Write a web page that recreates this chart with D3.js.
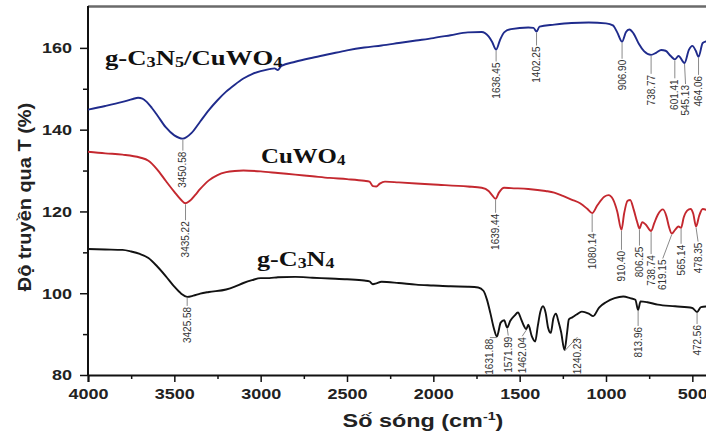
<!DOCTYPE html>
<html>
<head>
<meta charset="utf-8">
<script src="https://cdn.jsdelivr.net/npm/d3@7"></script>
<style>
  html, body { margin: 0; padding: 0; background: #fff; }
  svg { display: block; }
  .peak { font-family: "Liberation Sans", Arial, sans-serif; font-size: 10px; fill: #333; }
  .tick text { font-family: "Liberation Sans", Arial, sans-serif; font-weight: bold; font-size: 15px; fill: #222; }
</style>
</head>
<body>
<svg id="chart" width="706" height="435"></svg>
<script>

// g-C3N5/CuWO4 spectrum [wavenumber, T%]
const compositeSeries = [
  [4000,144.9],[3900,145.8],[3800,146.8],[3740,147.5],[3710,147.8],[3685,147.6],[3660,146.8],
  [3630,145.3],[3600,143.6],[3550,140.6],[3500,138.6],[3450.58,137.8],[3400,139.2],[3350,142],
  [3300,144.8],[3250,147.2],[3200,149.3],[3150,151],[3100,152.5],[3050,153.6],[3000,154.3],
  [2950,154.8],[2920,155.0],[2900,154.6],[2880,155.6],[2800,156.6],[2700,157.6],[2600,158.5],
  [2500,159.4],[2400,160.1],[2300,160.6],[2200,161.2],[2100,161.8],[2000,162.4],[1900,163.1],
  [1800,163.8],[1720,163.9],[1680,162.8],[1660,161.5],[1636.45,159.6],[1615,161.8],[1590,163.8],
  [1550,164.6],[1450,165.0],[1420,164.9],[1402.25,164.0],[1385,165.2],[1300,165.7],[1200,166.1],
  [1100,166.2],[1000,166.0],[960,165.5],[935,163.8],[906.90,161.5],[885,163.8],[865,164.5],
  [840,163.5],[810,161],[780,159.2],[738.77,158.3],[710,158.8],[680,159.5],[655,159.3],
  [625,158.0],[601.41,157.2],[580,158.0],[545.13,156.3],[520,159.5],[500,160.5],[480,159.3],
  [464.06,157.8],[440,161.2],[420,161.6],[400,161.8]
];

// CuWO4 spectrum
const tungstateSeries = [
  [4000,134.6],[3900,134.2],[3800,133.9],[3700,133.2],[3650,132.4],[3600,130.3],[3550,127.5],
  [3500,124.8],[3460,122.8],[3435.22,122.0],[3410,122.6],[3380,124],[3350,125.5],[3300,127.6],
  [3250,128.9],[3200,129.6],[3150,129.9],[3100,130],[3000,129.8],[2900,129.4],[2800,129],
  [2700,128.6],[2600,128.2],[2500,127.9],[2400,127.5],[2370,127.3],[2350,126.2],[2330,126.1],
  [2310,126.8],[2280,127.3],[2200,127.1],[2000,126.6],[1800,126.1],[1720,125.8],[1680,125.0],
  [1660,124.0],[1639.44,123.1],[1620,124.6],[1590,125.8],[1550,125.7],[1450,125.5],[1350,125.0],
  [1300,124.6],[1250,123.8],[1200,122.9],[1150,122.0],[1110,120.7],[1080.14,119.6],[1050,121.5],
  [1010,123.6],[985,124.0],[960,123],[935,120],[910.40,115.5],[895,119.5],[875,122.6],[860,122.8],
  [840,120.5],[820,117.5],[806.25,115.8],[790,117.4],[770,116.8],[738.74,115.2],[720,117.2],
  [700,119.2],[670,120.5],[650,118.8],[635,116.2],[619.15,114.6],[600,115.5],[580,116.3],
  [565.14,116.0],[550,118.5],[530,120.2],[510,120.6],[495,119.5],[478.35,116.3],[460,119],
  [440,120.6],[420,120.4],[400,119.8]
];

// g-C3N4 spectrum
const nitrideSeries = [
  [4000,110.8],[3900,110.7],[3800,110.6],[3750,110.2],[3700,109.6],[3650,108.6],[3600,106.6],
  [3550,104.2],[3500,101.6],[3460,99.9],[3425.58,99.1],[3390,99.4],[3350,99.9],[3300,100.3],
  [3200,100.9],[3150,101.6],[3100,102.5],[3050,103.2],[3000,103.7],[2950,103.7],[2900,103.9],
  [2800,104.0],[2700,103.8],[2600,103.6],[2500,103.4],[2400,103.1],[2370,102.9],[2350,102.2],
  [2330,102.4],[2300,102.8],[2200,102.5],[2100,102.1],[2000,101.9],[1900,101.7],[1800,101.6],
  [1740,101.4],[1710,100.6],[1690,98.5],[1670,95.2],[1650,91.5],[1631.88,89.4],[1610,92.8],
  [1590,93.4],[1571.99,91.6],[1555,93.2],[1530,94.5],[1510,95.3],[1490,93.5],[1475,92.0],
  [1462.04,91.2],[1450,92.3],[1430,89.5],[1410,88.2],[1395,92.0],[1380,95.5],[1365,96.8],
  [1350,95.3],[1335,91.5],[1320,90.3],[1305,93.8],[1290,95.0],[1275,93.0],[1260,90.5],
  [1240.23,86.1],[1225,90.5],[1215,93.6],[1195,94.1],[1170,94.8],[1140,95.5],[1100,95.0],
  [1074,94.4],[1040,96.5],[1000,97.8],[950,98.8],[900,99.2],[860,98.8],[830,98.4],[813.96,95.9],
  [800,98.0],[760,97.8],[700,97.2],[600,96.8],[500,96.4],[472.56,95.4],[450,96.6],[400,96.8]
];

// marked peaks
const compositePeaks = [3450.58, 1636.45, 1402.25, 906.90, 738.77, 601.41, 545.13, 464.06];
const tungstatePeaks = [3435.22, 1639.44, 1080.14, 910.40, 806.25, 738.74, 619.15, 565.14, 478.35];
const nitridePeaks   = [3425.58, 1631.88, 1571.99, 1462.04, 1240.23, 813.96, 472.56];

// axis ticks
const xMajor = [4000, 3500, 3000, 2500, 2000, 1500, 1000, 500];
const xMinor = [3750, 3250, 2750, 2250, 1750, 1250, 750];
const yMajor = [80, 100, 120, 140, 160];
const yMinor = [90, 110, 130, 150];

// label layout (gap under the curve, sideways shift)
const compositeLeads  = [13, 13, 15, 18, 20, 20, 22, 19];
const compositeShifts = [0, 0, 0, 0, 0, 0, 1, 0];
const tungstateLeads  = [18, 15, 20, 21, 18, 24, 26, 17, 16];
const tungstateShifts = [0, 0, 0, 0, 0, 0, -9, 0, 2];
const nitrideLeads    = [10, 2, 9, 8, -12, 17, 13];
const nitrideShifts   = [0, -7, 1, -4, 13, 0, 0];

const svg = d3.select("#chart");
const plotLeft = 88, plotTop = 7, plotBottom = 375, plotRight = 706;

const x = d3.scaleLinear().domain([4000, 400]).range([plotLeft, 709.6]);
const y = d3.scaleLinear().domain([80, 170]).range([plotBottom, plotTop]);

svg.append("clipPath").attr("id", "plotClip")
  .append("rect").attr("x", plotLeft).attr("y", 0)
  .attr("width", plotRight - plotLeft).attr("height", plotBottom);

//Top frame line
svg.append("line")
  .attr("x1", plotLeft).attr("x2", plotRight).attr("y1", 6.5).attr("y2", 6.5)
  .attr("stroke", "#6a6a6a").attr("stroke-width", 2.5);

//Axes: minor ticks first, then major with labels
svg.append("g")
  .attr("transform", `translate(0,${plotBottom})`)
  .call(d3.axisBottom(x).tickValues(xMinor).tickSize(4).tickFormat(""))
  .call(g => g.select(".domain").remove())
  .call(g => g.selectAll("line").attr("stroke", "#111").attr("stroke-width", 1.5));

const xAxis = svg.append("g")
  .attr("transform", `translate(0,${plotBottom})`)
  .call(d3.axisBottom(x).tickValues(xMajor).tickSize(7).tickPadding(6).tickFormat(d3.format("d")));
xAxis.select(".domain").attr("stroke", "#111").attr("stroke-width", 2);
xAxis.selectAll("line").attr("stroke", "#111").attr("stroke-width", 1.5);
xAxis.selectAll("text").attr("transform", "scale(1.2,1)");

svg.append("g")
  .attr("transform", `translate(${plotLeft},0)`)
  .call(d3.axisLeft(y).tickValues(yMinor).tickSize(5).tickFormat(""))
  .call(g => g.select(".domain").remove())
  .call(g => g.selectAll("line").attr("stroke", "#111").attr("stroke-width", 1.5));

const yAxis = svg.append("g")
  .attr("transform", `translate(${plotLeft},0)`)
  .call(d3.axisLeft(y).tickValues(yMajor).tickSize(8).tickFormat(d3.format("d")));
yAxis.select(".domain").attr("stroke", "#111").attr("stroke-width", 2)
  .attr("d", `M0,${plotTop - 1}V${plotBottom}`);
yAxis.selectAll("line").attr("stroke", "#111").attr("stroke-width", 1.5);
yAxis.selectAll("text").attr("x", 0).attr("transform", "translate(-16,0) scale(1.2,1)");

//Axis titles
const xTitle = svg.append("text")
  .attr("text-anchor", "middle")
  .attr("transform", "translate(423,427) scale(1.3,1)")
  .style("font-family", "'Liberation Sans', Arial, sans-serif")
  .style("font-weight", "bold").style("font-size", "18px").attr("fill", "#222");
xTitle.append("tspan").text("Số sóng (cm");
xTitle.append("tspan").attr("dy", -7).style("font-size", "11px").text("-1");
xTitle.append("tspan").attr("dy", 7).text(")");

svg.append("text")
  .attr("text-anchor", "middle")
  .attr("transform", "translate(31,197) rotate(-90) scale(1.05,1)")
  .style("font-family", "'Liberation Sans', Arial, sans-serif")
  .style("font-weight", "bold")
  .style("font-size", "19px").attr("fill", "#222")
  .text("Độ truyền qua T (%)");

//Spectra
const line = d3.line()
  .x(d => x(d[0]))
  .y(d => y(d[1]))
  .curve(d3.curveMonotoneX);

const spectra = [
  { data: compositeSeries, color: "#1f2b8c" },
  { data: tungstateSeries, color: "#c4282f" },
  { data: nitrideSeries,   color: "#121212" }
];

svg.append("g").attr("clip-path", "url(#plotClip)")
  .selectAll("path")
  .data(spectra)
  .join("path")
    .attr("d", d => line(d.data))
    .attr("fill", "none")
    .attr("stroke", d => d.color)
    .attr("stroke-width", 1.9)
    .attr("stroke-linejoin", "round");

//Peak labels with leader lines
const drawPeaks = (peaks, series, leads, shifts) => {
  const g = svg.append("g");
  peaks.forEach((p, i) => {
    const pt = d3.least(series, d => Math.abs(d[0] - p));
    const cx = x(pt[0]), cy = y(pt[1]);
    const lx = cx + shifts[i], ty = cy + leads[i];
    g.append("line")
      .attr("x1", cx).attr("y1", cy + 1)
      .attr("x2", lx).attr("y2", ty - 1)
      .attr("stroke", "#8a8a8a").attr("stroke-width", 1);
    g.append("text")
      .attr("class", "peak")
      .attr("text-anchor", "end")
      .attr("dy", "0.35em")
      .attr("transform", `translate(${lx},${ty}) rotate(-90)`)
      .text(p.toFixed(2));
  });
};

drawPeaks(compositePeaks, compositeSeries, compositeLeads, compositeShifts);
drawPeaks(tungstatePeaks, tungstateSeries, tungstateLeads, tungstateShifts);
drawPeaks(nitridePeaks, nitrideSeries, nitrideLeads, nitrideShifts);

//Sample names, serif with small subscripts
const sampleNames = [
  { parts: [["g-C", 0], ["3", 1], ["N", 0], ["5", 1], ["/CuWO", 0], ["4", 1]], x: 105, y: 65, w: 178 },
  { parts: [["CuWO", 0], ["4", 1]], x: 261, y: 163, w: 85 },
  { parts: [["g-C", 0], ["3", 1], ["N", 0], ["4", 1]], x: 257, y: 266, w: 78 }
];

sampleNames.forEach(s => {
  const t = svg.append("text")
    .style("font-family", "'Liberation Serif', 'Times New Roman', serif")
    .style("font-weight", "bold").style("font-size", "22px")
    .attr("fill", "#111");
  let shifted = false;
  s.parts.forEach(([str, sub]) => {
    const ts = t.append("tspan").text(str);
    if (sub) { ts.style("font-size", "15px").attr("dy", 2); shifted = true; }
    else if (shifted) { ts.attr("dy", -2); shifted = false; }
  });
  const w = t.node().getBBox().width;
  t.attr("transform", `translate(${s.x},${s.y}) scale(${s.w / w},1)`);
});

</script>
</body>
</html>
